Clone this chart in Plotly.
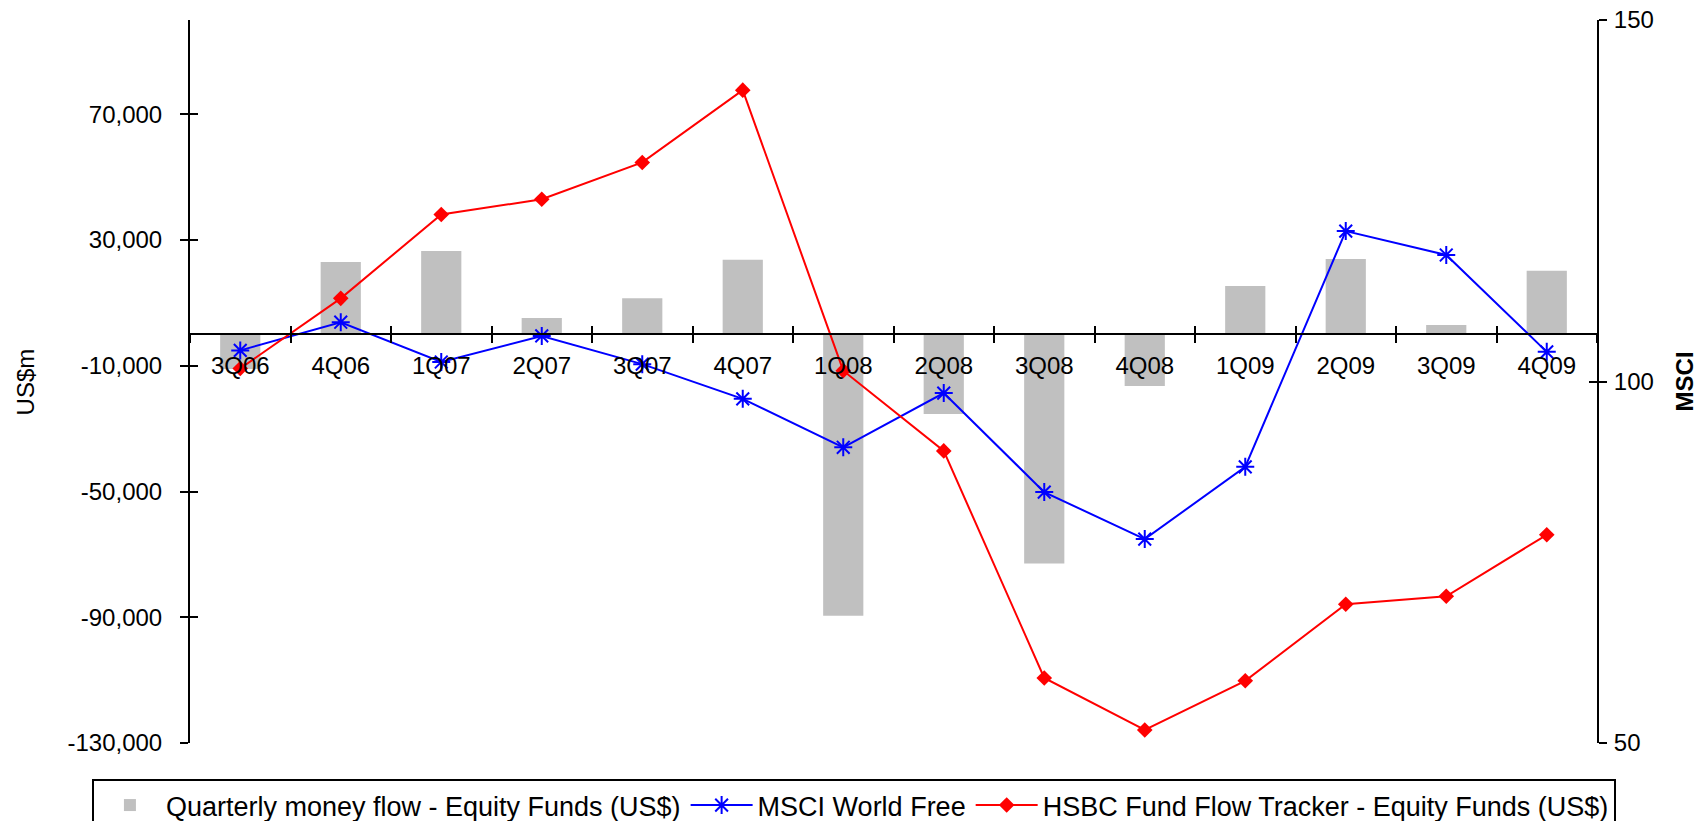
import plotly.graph_objects as go

# Quarter labels
quarters = ["3Q06", "4Q06", "1Q07", "2Q07", "3Q07", "4Q07", "1Q08",
            "2Q08", "3Q08", "4Q08", "1Q09", "2Q09", "3Q09", "4Q09"]

# Quarterly money flow into equity funds (US$m), left axis
money_flow = [-11000, 23000, 26500, 5200, 11500, 23700, -89500,
              -25300, -72900, -16400, 15400, 24000, 3000, 20200]

# MSCI World Free, right axis
msci_world = [104.3, 108.2, 102.7, 106.3, 102.4, 97.6, 90.9,
              98.4, 84.7, 78.2, 88.2, 120.8, 117.5, 104.1]

# HSBC Fund Flow Tracker - Equity Funds, right axis
hsbc_tracker = [101.8, 111.5, 123.1, 125.2, 130.3, 140.3, 101.5,
                90.4, 59.0, 51.8, 58.6, 69.2, 70.3, 78.8]

# Axis settings
left_range = [-130000, 100000]
left_ticks = [-130000, -90000, -50000, -10000, 30000, 70000]
left_ticktext = [f"{v:,}" for v in left_ticks]  # plain hyphen for negatives
right_range = [50, 150]
right_dtick = 50

FONT = "Liberation Sans, Arial, sans-serif"
TICK_FONT = dict(family=FONT, size=24, color="black")

fig = go.Figure()

fig.add_trace(go.Bar(
    x=quarters, y=money_flow,
    name="Quarterly money flow - Equity Funds (US$)",
    marker=dict(color="#C0C0C0", line=dict(width=0)),
    width=0.4,
    xaxis="x", yaxis="y",
))

fig.add_trace(go.Scatter(
    x=quarters, y=msci_world,
    name="MSCI World Free",
    mode="lines+markers",
    line=dict(color="#0000FF", width=2),
    marker=dict(symbol="asterisk-open", size=15,
                line=dict(color="#0000FF", width=2), color="#0000FF"),
    xaxis="x", yaxis="y2",
))

fig.add_trace(go.Scatter(
    x=quarters, y=hsbc_tracker,
    name="HSBC Fund Flow Tracker - Equity Funds (US$)",
    mode="lines+markers",
    line=dict(color="#FF0000", width=2),
    marker=dict(symbol="diamond", size=12, color="#FF0000"),
    xaxis="x", yaxis="y2",
))

# empty traces so the tick-only overlay axes get drawn
for ya in ("y3", "y4"):
    fig.add_trace(go.Scatter(x=[], y=[], xaxis="x2", yaxis=ya,
                             showlegend=False, hoverinfo="skip"))

# x axis sits on the zero line of the left axis
zero_pos = (0 - left_range[0]) / (left_range[1] - left_range[0])
n = len(quarters)

fig.update_layout(
    width=1702, height=821,
    margin=dict(l=190, r=105, t=20, b=78, autoexpand=False),
    paper_bgcolor="white", plot_bgcolor="white",
    font=dict(family=FONT, color="black"),
    bargap=0.6,
    showlegend=True,
    legend=dict(
        orientation="h",
        x=-0.0697, xanchor="left",
        y=-0.0498, yanchor="top",
        bordercolor="black", borderwidth=2,
        bgcolor="white",
        font=dict(family=FONT, size=27, color="black"),
        itemwidth=62,
        traceorder="normal",
    ),
    xaxis=dict(
        type="category",
        categoryorder="array", categoryarray=quarters,
        range=[-0.5, n - 0.5],
        anchor="free", position=zero_pos,
        showline=True, linecolor="black", linewidth=2,
        ticks="outside", ticklen=8, tickwidth=1.5, tickcolor="black",
        tickson="boundaries",
        tickfont=TICK_FONT,
        ticklabelstandoff=10,
        showgrid=False, zeroline=False, automargin=False,
    ),
    # inner halves of the x tick marks
    xaxis2=dict(
        overlaying="x",
        range=[-0.5, n - 0.5],
        anchor="free", position=zero_pos,
        tickmode="linear", tick0=-0.5, dtick=1,
        ticks="inside", ticklen=8, tickwidth=1.5, tickcolor="black",
        showticklabels=False, showline=False,
        showgrid=False, zeroline=False, automargin=False,
    ),
    yaxis=dict(
        range=left_range,
        tickmode="array", tickvals=left_ticks, ticktext=left_ticktext,
        showline=True, linecolor="black", linewidth=2,
        ticks="outside", ticklen=8, tickwidth=1.5, tickcolor="black",
        tickfont=TICK_FONT,
        ticklabelstandoff=13,
        showgrid=False, zeroline=False, automargin=False,
    ),
    yaxis3=dict(
        overlaying="y", side="left", anchor="x",
        range=left_range,
        tickmode="array", tickvals=left_ticks,
        ticks="inside", ticklen=8, tickwidth=1.5, tickcolor="black",
        showticklabels=False, showline=False,
        showgrid=False, zeroline=False, automargin=False,
    ),
    yaxis2=dict(
        overlaying="y", side="right", anchor="x",
        range=right_range,
        tickmode="linear", tick0=right_range[0], dtick=right_dtick,
        showline=True, linecolor="black", linewidth=2,
        ticks="outside", ticklen=8, tickwidth=1.5, tickcolor="black",
        tickfont=TICK_FONT,
        ticklabelstandoff=2,
        showgrid=False, zeroline=False, automargin=False,
    ),
    yaxis4=dict(
        overlaying="y", side="right", anchor="x",
        range=right_range,
        tickmode="linear", tick0=right_range[0], dtick=right_dtick,
        ticks="inside", ticklen=8, tickwidth=1.5, tickcolor="black",
        showticklabels=False, showline=False,
        showgrid=False, zeroline=False, automargin=False,
    ),
    annotations=[
        dict(text="US$m", xref="paper", yref="paper",
             x=-0.1166, y=0.5, xanchor="center", yanchor="middle",
             textangle=-90, showarrow=False,
             font=dict(family=FONT, size=24, color="black")),
        dict(text="<b>MSCI</b>", xref="paper", yref="paper",
             x=1.0625, y=0.5, xanchor="center", yanchor="middle",
             textangle=-90, showarrow=False,
             font=dict(family=FONT, size=24, color="black")),
    ],
)

fig.write_html("out.html")
